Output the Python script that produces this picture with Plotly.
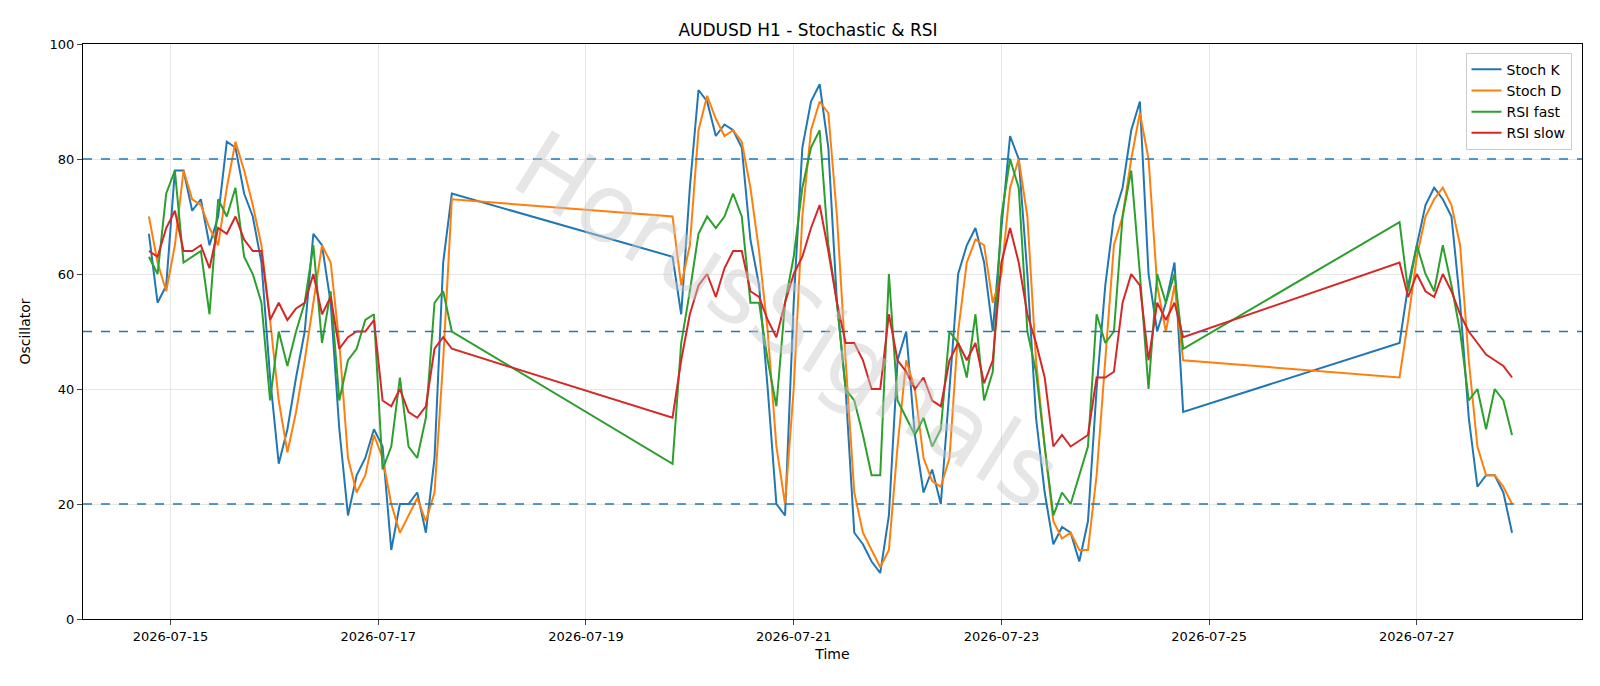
import pandas as pd
import plotly.graph_objects as go

# three trading blocks, 2-hour sampling
seg1_start, seg1_n = "2026-07-14 19:00", 36
seg2_start, seg2_n = "2026-07-19 20:00", 60
seg3_start, seg3_n = "2026-07-26 20:00", 14

stoch_k = [67, 55, 58, 78, 78, 71, 73, 65, 70, 83, 82, 74, 70, 62, 42, 27, 33, 42, 50, 67, 65, 55, 33, 18, 25, 28, 33, 30, 12, 20, 20, 22, 15, 28, 62, 74,
           63, 53, 75, 92, 90, 84, 86, 85, 82, 66, 58, 40, 20, 18, 55, 82, 90, 93, 82, 55, 40, 15, 13, 10, 8, 18, 45, 50, 32, 22, 26, 20, 40, 60,
           65, 68, 62, 50, 68, 84, 80, 60, 35, 22, 13, 16, 15, 10, 17, 40, 58, 70, 75, 85, 90, 60, 50, 55, 62, 36,
           48, 58, 65, 72, 75, 73, 70, 55, 35, 23, 25, 25, 22, 15]
stoch_d = [70, 62, 57, 65, 78, 73, 72, 68, 65, 75, 83, 78, 72, 65, 52, 38, 29, 36, 45, 55, 65, 62, 48, 28, 22, 25, 32, 28, 20, 15, 18, 21, 17, 22, 45, 73,
           70, 58, 65, 85, 91, 87, 84, 85, 83, 75, 64, 50, 30, 20, 40, 70, 85, 90, 88, 70, 45, 22, 15, 12, 9, 12, 30, 45, 40, 28, 24, 23, 28, 50,
           62, 66, 65, 55, 60, 75, 80, 70, 45, 30, 17, 14, 15, 12, 12, 25, 45, 65, 70, 80, 88, 80, 58, 50, 58, 45,
           42, 52, 63, 70, 73, 75, 72, 65, 45, 30, 25, 25, 23, 20]
rsi_fast = [63, 60, 74, 78, 62, 63, 64, 53, 73, 70, 75, 63, 60, 55, 38, 50, 44, 50, 55, 65, 48, 57, 38, 45, 47, 52, 53, 26, 30, 42, 30, 28, 35, 55, 57, 50,
            27, 48, 57, 67, 70, 68, 70, 74, 70, 55, 55, 45, 37, 55, 63, 75, 82, 85, 65, 55, 40, 38, 32, 25, 25, 60, 38, 35, 32, 35, 30, 33, 50, 48,
            42, 53, 38, 43, 70, 80, 75, 50, 43, 30, 18, 22, 20, 25, 30, 53, 48, 50, 70, 78, 60, 40, 60, 55, 60, 47,
            69, 57, 65, 60, 57, 65, 58, 50, 38, 40, 33, 40, 38, 32]
rsi_slow = [64, 63, 68, 71, 64, 64, 65, 61, 68, 67, 70, 66, 64, 64, 52, 55, 52, 54, 55, 60, 53, 56, 47, 49, 50, 50, 52, 38, 37, 40, 36, 35, 37, 47, 49, 47,
            35, 45, 53, 58, 60, 56, 61, 64, 64, 57, 56, 52, 49, 55, 60, 63, 68, 72, 64, 55, 48, 48, 45, 40, 40, 53, 45, 43, 40, 42, 38, 37, 45, 48,
            45, 48, 41, 45, 62, 68, 62, 53, 48, 42, 30, 32, 30, 31, 32, 42, 42, 43, 55, 60, 58, 45, 55, 52, 55, 49,
            62, 56, 60, 57, 56, 60, 57, 53, 50, 48, 46, 45, 44, 42]

times = list(pd.date_range(seg1_start, periods=seg1_n, freq="2h")) + \
        list(pd.date_range(seg2_start, periods=seg2_n, freq="2h")) + \
        list(pd.date_range(seg3_start, periods=seg3_n, freq="2h"))

fig = go.Figure()
for name, vals, color in [("Stoch K", stoch_k, "#1f77b4"), ("Stoch D", stoch_d, "#ff7f0e"),
                          ("RSI fast", rsi_fast, "#2ca02c"), ("RSI slow", rsi_slow, "#d62728")]:
    fig.add_trace(go.Scatter(x=times, y=vals, mode="lines", name=name, line=dict(color=color, width=2)))

for lvl in [20, 50, 80]:
    fig.add_hline(y=lvl, line=dict(color="#1f77b4", width=1.3, dash="dash"))

fig.add_annotation(text="HorusSignals", x=0.47, y=0.52, xref="paper", yref="paper", showarrow=False,
                   textangle=32, font=dict(size=95, color="rgba(200,200,200,0.45)", family="DejaVu Sans"))

fig.update_layout(
    width=1600, height=686, plot_bgcolor="white", paper_bgcolor="white",
    margin=dict(l=75, r=26, t=36, b=75),
    font=dict(family="DejaVu Sans", size=13, color="black"),
    title=dict(text="AUDUSD H1 - Stochastic & RSI", x=0.5, xanchor="center", y=0.977, font=dict(size=17)),
    legend=dict(x=0.993, y=0.985, xanchor="right", yanchor="top", bordercolor="#cccccc", borderwidth=1,
                bgcolor="rgba(255,255,255,0.8)", font=dict(size=14)),
    xaxis=dict(title=dict(text="Time", standoff=6, font=dict(size=14)), range=["2026-07-14 03:46", "2026-07-28 14:10"],
               tickvals=["2026-07-15", "2026-07-17", "2026-07-19", "2026-07-21", "2026-07-23", "2026-07-25", "2026-07-27"],
               tickformat="%Y-%m-%d", showgrid=True, gridcolor="#e6e6e6", showline=True, linecolor="black",
               mirror=True, ticks="outside", zeroline=False, automargin=False),
    yaxis=dict(title=dict(text="Oscillator", font=dict(size=14)), range=[0, 100], dtick=20, showgrid=True,
               gridcolor="#e6e6e6", showline=True, linecolor="black", mirror=True, ticks="outside",
               zeroline=False, automargin=False),
)

fig.write_html("out.html")
